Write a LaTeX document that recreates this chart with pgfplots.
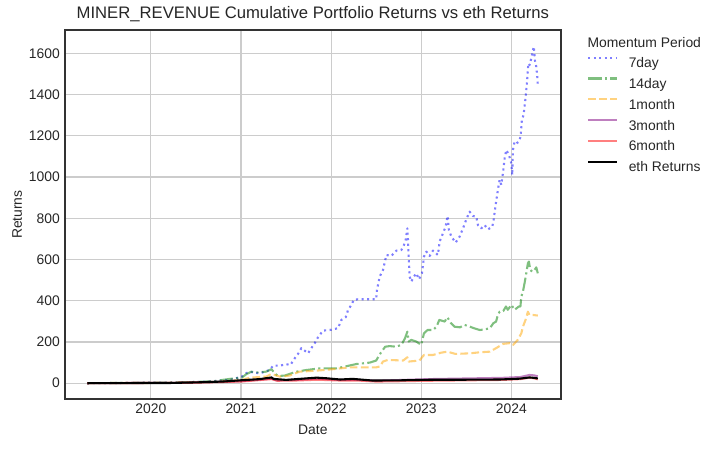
\documentclass[border=0pt]{standalone}
\usepackage{pgfplots}
\pgfplotsset{compat=1.18}
\usepackage{fontspec}
\setmainfont{Liberation Sans}
\definecolor{mblue}{RGB}{0,0,255}
\definecolor{mgreen}{RGB}{0,128,0}
\definecolor{morange}{RGB}{255,165,0}
\definecolor{mpurple}{RGB}{128,0,128}
\definecolor{mred}{RGB}{255,0,0}
\definecolor{txt}{RGB}{38,38,38}
\pgfplotsset{mylegimg/.style={legend image code/.code={\draw[#1] (0pt,3.6pt) -- (20.4pt,3.6pt);}}}
\begin{document}
\begin{tikzpicture}
\path[use as bounding box] (-46.6pt,-35.1pt) rectangle (468.2pt,287.5pt);
\begin{axis}[name=ax, at={(0,0)}, anchor=south west,
  width=357.3pt, height=265.9pt, scale only axis,
  xmin=2019.045, xmax=2024.55, ymin=-78, ymax=1713,
  xtick={2020,2021,2022,2023,2024}, xticklabels={2020,2021,2022,2023,2024},
  ytick={0,200,400,600,800,1000,1200,1400,1600},
  /pgf/number format/assume math mode=true, /pgf/number format/1000 sep={},
  tick label style={font=\fontsize{10}{12}\selectfont, text=txt},
  major tick length=0pt,
  grid=major, major grid style={color=black!20, line width=0.8pt},
  axis line style={color=black!80, line width=1.25pt},
  every axis title shift=0pt,
  title={MINER\_REVENUE Cumulative Portfolio Returns vs eth Returns},
  title style={font=\fontsize{12}{14}\selectfont, text=txt, at={(axis description cs:0.5,1.0432)}, anchor=center},
  xlabel={Date}, ylabel={Returns},
  xlabel style={font=\fontsize{10}{12}\selectfont, text=txt, at={(axis description cs:0.5,-0.083)}, anchor=center},
  ylabel style={font=\fontsize{10}{12}\selectfont, text=txt, at={(axis description cs:-0.096,0.5)}, anchor=center},
  legend style={at={(1,1)}, anchor=north west, xshift=18.9pt, yshift=-16pt, draw=none, fill=none,
    inner sep=0pt, outer sep=0pt, column sep=8.0pt, row sep=0pt,
    font=\fontsize{10}{12}\selectfont, text=txt,
    nodes={inner sep=0pt, text height=11.1pt, text depth=3.9pt}},
  legend cell align=left,
  mylegimg,
  every axis plot/.append style={line width=1.5pt, line cap=butt, line join=round},
]
\addplot[mblue, draw opacity=0.5, dash pattern=on 1.5pt off 2.475pt] coordinates {
(2019.295,0) (2019.6,1) (2019.9,2) (2020.2,3) (2020.5,6) (2020.7,10) (2020.876,16)
(2021.01,32) (2021.04,45) (2021.098,56) (2021.134,52) (2021.208,48) (2021.264,56) (2021.319,64)
(2021.356,85) (2021.43,85) (2021.504,92) (2021.549,89) (2021.597,121) (2021.633,142) (2021.67,170)
(2021.707,158) (2021.744,145) (2021.781,170) (2021.818,194) (2021.855,223) (2021.91,255) (2021.985,258)
(2022.04,263) (2022.077,267) (2022.114,307) (2022.162,320) (2022.188,355) (2022.225,380) (2022.251,404)
(2022.298,407) (2022.50,407) (2022.509,452) (2022.539,517) (2022.576,549) (2022.613,622) (2022.668,617)
(2022.724,643) (2022.779,646) (2022.808,670) (2022.827,695) (2022.846,751) (2022.853,695) (2022.86,614)
(2022.866,565) (2022.871,517) (2022.89,493) (2022.919,517) (2022.945,533) (2022.975,504) (2023.008,533)
(2023.03,614) (2023.057,638) (2023.093,617) (2023.13,643) (2023.185,622) (2023.204,687) (2023.241,727)
(2023.27,759) (2023.293,811) (2023.307,743) (2023.334,711) (2023.381,682) (2023.426,711) (2023.47,759)
(2023.50,795) (2023.537,832) (2023.573,811) (2023.61,808) (2023.629,767) (2023.666,751) (2023.703,767)
(2023.74,746) (2023.788,759) (2023.803,792) (2023.825,864) (2023.85,937) (2023.869,986) (2023.888,962)
(2023.906,1018) (2023.925,1091) (2023.943,1131) (2023.973,1107) (2023.999,1067) (2024.01,1010) (2024.017,1131)
(2024.035,1171) (2024.054,1163) (2024.083,1171) (2024.102,1196) (2024.116,1276) (2024.135,1301) (2024.154,1373)
(2024.172,1454) (2024.188,1551) (2024.202,1543) (2024.221,1576) (2024.239,1616) (2024.25,1632) (2024.26,1567)
(2024.276,1535) (2024.287,1486) (2024.293,1446)
};
\addlegendentry{7day}
\addplot[mgreen, draw opacity=0.5, dash pattern=on 9.6pt off 2.4pt on 1.5pt off 2.4pt] coordinates {
(2019.295,0) (2019.6,1) (2019.9,2) (2020.2,3) (2020.5,6) (2020.7,10) (2020.876,21)
(2021.01,27) (2021.06,44) (2021.116,56) (2021.17,52) (2021.28,56) (2021.338,68) (2021.375,48)
(2021.41,35) (2021.486,37) (2021.56,48) (2021.615,56) (2021.726,64) (2021.874,72) (2022.06,72)
(2022.28,93) (2022.43,100) (2022.50,110) (2022.54,140) (2022.56,153) (2022.6,177) (2022.65,180)
(2022.72,177) (2022.78,186) (2022.82,218) (2022.846,250) (2022.86,202) (2022.89,210) (2022.945,202)
(2023.0,186) (2023.03,242) (2023.07,258) (2023.13,258) (2023.17,274) (2023.2,307) (2023.26,299)
(2023.29,320) (2023.33,291) (2023.37,274) (2023.43,271) (2023.48,283) (2023.54,274) (2023.59,266)
(2023.65,258) (2023.70,261) (2023.76,266) (2023.80,291) (2023.83,299) (2023.85,331) (2023.87,347)
(2023.91,350) (2023.94,372) (2023.96,356) (2024.0,380) (2024.035,356) (2024.083,372) (2024.10,372)
(2024.11,420) (2024.128,444) (2024.146,485) (2024.165,533) (2024.183,582) (2024.194,590) (2024.21,549)
(2024.232,541) (2024.257,549) (2024.276,562) (2024.293,533)
};
\addlegendentry{14day}
\addplot[morange, draw opacity=0.5, dash pattern=on 5.55pt off 2.4pt] coordinates {
(2019.295,0) (2019.6,1) (2019.9,1) (2020.2,2) (2020.5,4) (2020.8,8) (2021.01,16)
(2021.1,27) (2021.28,32) (2021.338,45) (2021.43,32) (2021.54,37) (2021.65,56) (2021.84,61)
(2022.02,68) (2022.21,77) (2022.50,77) (2022.54,81) (2022.576,105) (2022.63,113) (2022.80,110)
(2022.846,126) (2022.86,105) (2022.98,110) (2023.03,137) (2023.13,137) (2023.22,148) (2023.29,153)
(2023.38,142) (2023.54,145) (2023.65,150) (2023.76,153) (2023.83,170) (2023.91,191) (2023.98,194)
(2024.017,185) (2024.07,210) (2024.11,242) (2024.128,274) (2024.157,307) (2024.183,347) (2024.20,331)
(2024.24,331) (2024.293,328)
};
\addlegendentry{1month}
\addplot[mpurple, draw opacity=0.5] coordinates {
(2019.295,0) (2019.8,1) (2020.3,2) (2020.6,5) (2021.0,10) (2021.34,22) (2021.4,14)
(2021.6,16) (2021.85,22) (2022.1,16) (2022.3,16) (2022.5,12) (2022.8,16) (2023.1,20)
(2023.5,23) (2023.9,26) (2024.1,30) (2024.2,40) (2024.25,38) (2024.293,34)
};
\addlegendentry{3month}
\addplot[mred, draw opacity=0.5] coordinates {
(2019.295,0) (2019.8,1) (2020.3,2) (2020.6,4) (2021.0,8) (2021.34,20) (2021.4,12)
(2021.6,13) (2021.85,17) (2022.1,13) (2022.3,13) (2022.5,8) (2022.8,10) (2023.1,12)
(2023.5,14) (2023.9,16) (2024.1,20) (2024.2,27) (2024.25,24) (2024.293,19)
};
\addlegendentry{6month}
\addplot[black] coordinates {
(2019.295,0) (2019.6,0.5) (2019.9,1) (2020.2,1) (2020.5,4) (2020.8,8) (2020.99,14)
(2021.21,20) (2021.34,28) (2021.36,21) (2021.5,16) (2021.65,21) (2021.84,27) (2021.95,24)
(2022.1,18) (2022.24,21) (2022.46,13) (2022.76,14) (2023.13,17) (2023.5,17) (2023.87,18)
(2024.09,22) (2024.2,28) (2024.25,26) (2024.293,23)
};
\addlegendentry{eth Returns}
\end{axis}
\node[anchor=west, inner sep=0pt, font=\fontsize{10}{12}\selectfont, text=txt] at ([xshift=18.9pt,yshift=-8.9pt]ax.north east) {Momentum Period};
\end{tikzpicture}
\end{document}
